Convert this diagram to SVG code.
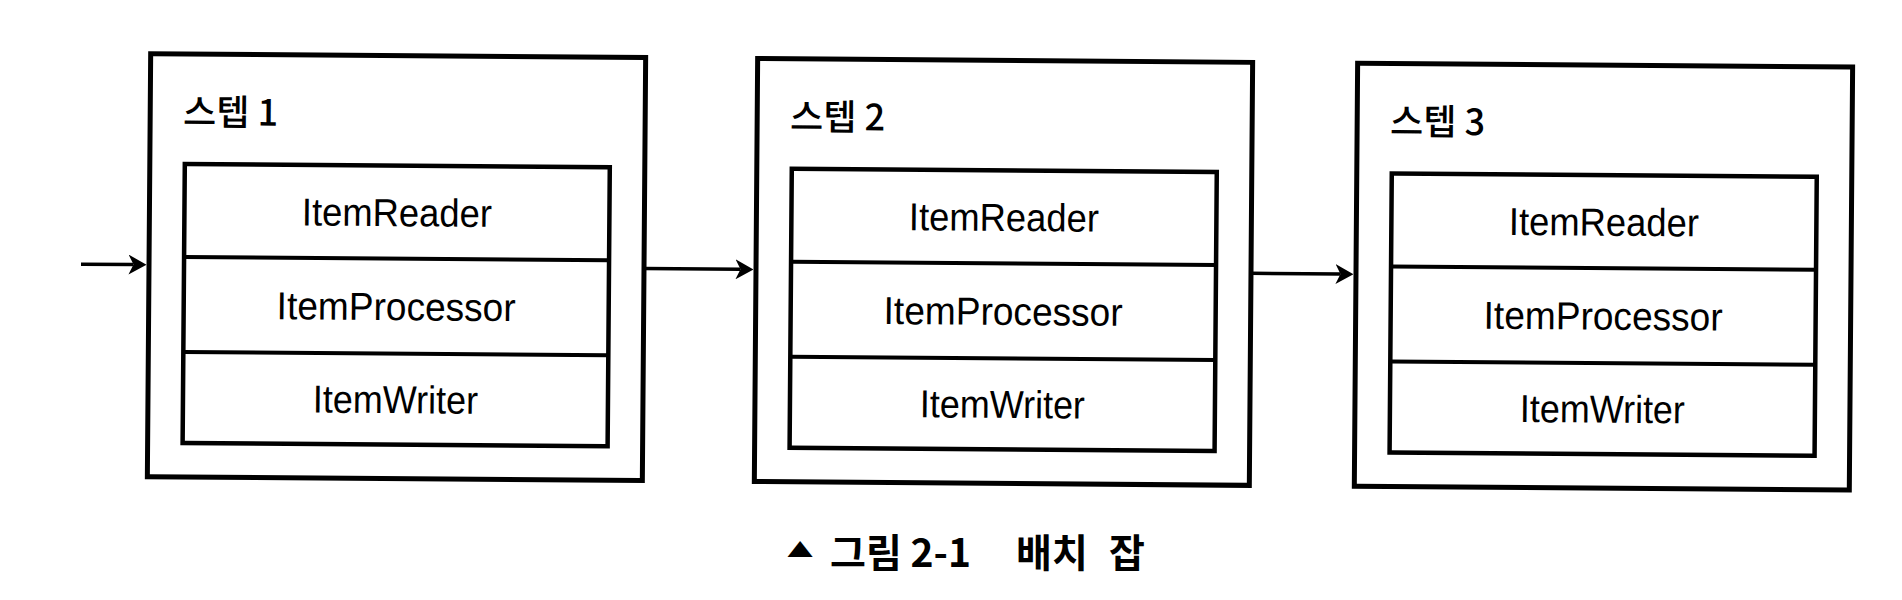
<svg xmlns="http://www.w3.org/2000/svg" width="1902" height="600" viewBox="0 0 1902 600">
<style>
.outer{fill:#fff;stroke:#000;stroke-width:5}
.inner{fill:none;stroke:#000;stroke-width:4.5}
.div{stroke:#000;stroke-width:4}
.title{font-family:"Noto Sans CJK KR","Noto Sans",sans-serif;font-size:36px;font-weight:500;fill:#000}
.item{font-family:"Liberation Sans",Arial,sans-serif;font-size:39px;text-anchor:middle;fill:#000}
.conn{stroke:#000;stroke-width:3.5;fill:none}
.cap{font-family:"Noto Sans CJK KR",sans-serif;font-size:39px;font-weight:bold;fill:#000}
.tri{font-family:"Noto Sans CJK KR",sans-serif;font-size:19.5px;font-weight:bold;fill:#000;text-anchor:middle}
</style>
<defs>
<marker id="arr" viewBox="0 0 18 20" markerWidth="18" markerHeight="20" refX="5" refY="10" markerUnits="userSpaceOnUse" orient="auto">
<path d="M0,0 L18,10 L0,20 L5,10 Z" fill="#000"/>
</marker>
</defs>
<rect width="1902" height="600" fill="#fff"/>
<g transform="rotate(0.45 950 270)">
<g id="connectors">
<line class="conn" x1="81" y1="271" x2="133.5" y2="271" marker-end="url(#arr)"/>
<line class="conn" x1="644" y1="271" x2="740.5" y2="271" marker-end="url(#arr)"/>
<line class="conn" x1="1251" y1="271" x2="1340.5" y2="271" marker-end="url(#arr)"/>
</g>
<g id="step1">
<rect class="outer" x="149" y="60" width="495" height="423"/>
<text class="title" x="182" y="131">스텝 1</text>
<rect class="inner" x="184" y="170" width="425" height="279"/>
<line class="div" x1="184" y1="263" x2="609" y2="263"/>
<line class="div" x1="184" y1="358" x2="609" y2="358"/>
<text class="item" x="396.5" y="230.5" textLength="190" lengthAdjust="spacingAndGlyphs">ItemReader</text>
<text class="item" x="396.5" y="324.5" textLength="239" lengthAdjust="spacingAndGlyphs">ItemProcessor</text>
<text class="item" x="396.5" y="417.5" textLength="165" lengthAdjust="spacingAndGlyphs">ItemWriter</text>
</g>
<g id="step2">
<rect class="outer" x="756" y="60" width="495" height="423"/>
<text class="title" x="789" y="131">스텝 2</text>
<rect class="inner" x="791" y="170" width="425" height="279"/>
<line class="div" x1="791" y1="263" x2="1216" y2="263"/>
<line class="div" x1="791" y1="358" x2="1216" y2="358"/>
<text class="item" x="1003.5" y="230.5" textLength="190" lengthAdjust="spacingAndGlyphs">ItemReader</text>
<text class="item" x="1003.5" y="324.5" textLength="239" lengthAdjust="spacingAndGlyphs">ItemProcessor</text>
<text class="item" x="1003.5" y="417.5" textLength="165" lengthAdjust="spacingAndGlyphs">ItemWriter</text>
</g>
<g id="step3">
<rect class="outer" x="1356" y="60" width="495" height="423"/>
<text class="title" x="1389" y="131">스텝 3</text>
<rect class="inner" x="1391" y="170" width="425" height="279"/>
<line class="div" x1="1391" y1="263" x2="1816" y2="263"/>
<line class="div" x1="1391" y1="358" x2="1816" y2="358"/>
<text class="item" x="1603.5" y="230.5" textLength="190" lengthAdjust="spacingAndGlyphs">ItemReader</text>
<text class="item" x="1603.5" y="324.5" textLength="239" lengthAdjust="spacingAndGlyphs">ItemProcessor</text>
<text class="item" x="1603.5" y="417.5" textLength="165" lengthAdjust="spacingAndGlyphs">ItemWriter</text>
</g>
</g>
<g id="caption">
<text class="tri" transform="translate(800,557) scale(1.37,1)">▲</text>
<text class="cap" x="830" y="567">그림 2-1</text>
<text class="cap" x="1016" y="567">배치</text>
<text class="cap" x="1109" y="567">잡</text>
</g>
</svg>
